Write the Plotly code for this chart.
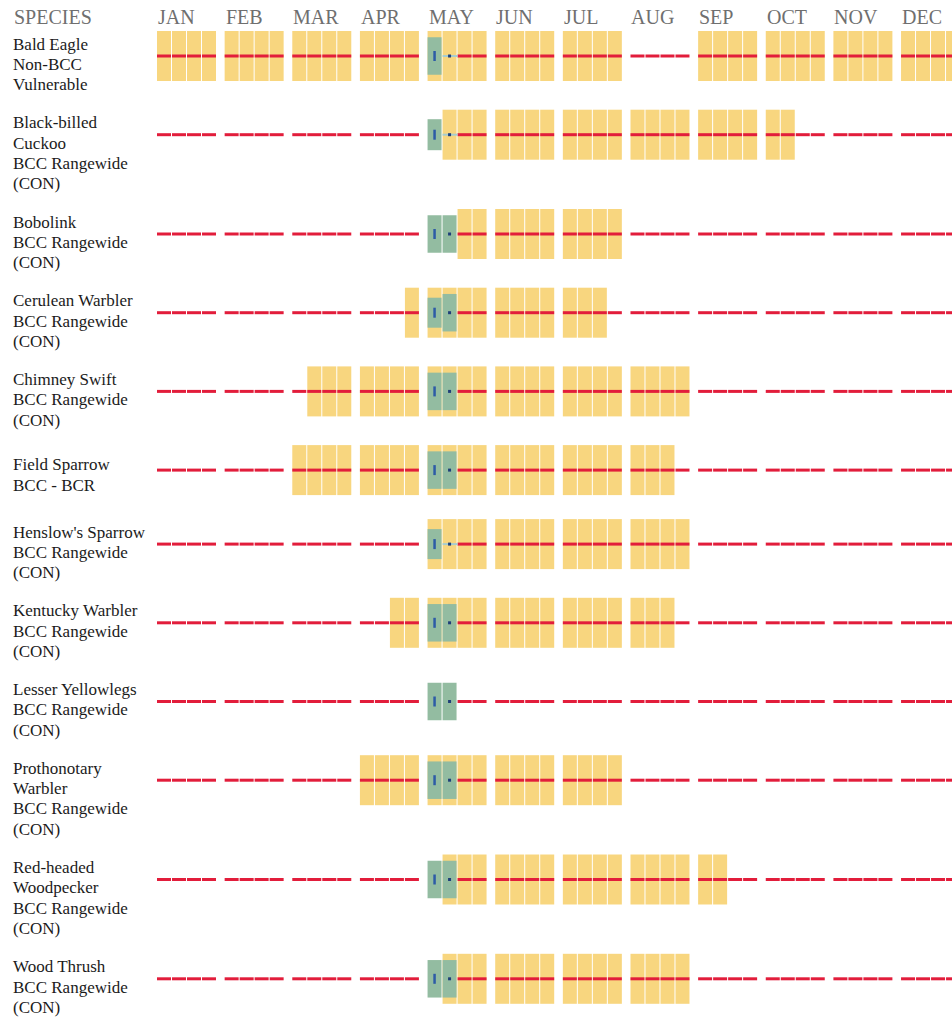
import plotly.graph_objects as go

# ---------------- data ----------------
MONTHS = ["JAN", "FEB", "MAR", "APR", "MAY", "JUN", "JUL", "AUG", "SEP", "OCT", "NOV", "DEC"]

SPECIES = [
    ["Bald Eagle", "Non-BCC", "Vulnerable"],
    ["Black-billed", "Cuckoo", "BCC Rangewide", "(CON)"],
    ["Bobolink", "BCC Rangewide", "(CON)"],
    ["Cerulean Warbler", "BCC Rangewide", "(CON)"],
    ["Chimney Swift", "BCC Rangewide", "(CON)"],
    ["Field Sparrow", "BCC - BCR"],
    ["Henslow's Sparrow", "BCC Rangewide", "(CON)"],
    ["Kentucky Warbler", "BCC Rangewide", "(CON)"],
    ["Lesser Yellowlegs", "BCC Rangewide", "(CON)"],
    ["Prothonotary", "Warbler", "BCC Rangewide", "(CON)"],
    ["Red-headed", "Woodpecker", "BCC Rangewide", "(CON)"],
    ["Wood Thrush", "BCC Rangewide", "(CON)"],
]

# probability of presence, one digit per week, 4 weeks per month (JAN..DEC)
PRESENCE = [
    "1111 1111 1111 1111 1111 1111 1111 0000 1111 1111 1111 1111",
    "0000 0000 0000 0000 0111 1111 1111 1111 1111 1100 0000 0000",
    "0000 0000 0000 0000 0011 1111 1111 0000 0000 0000 0000 0000",
    "0000 0000 0000 0001 1111 1111 1110 0000 0000 0000 0000 0000",
    "0000 0000 0111 1111 1111 1111 1111 1111 0000 0000 0000 0000",
    "0000 0000 1111 1111 1111 1111 1111 1110 0000 0000 0000 0000",
    "0000 0000 0000 0000 1111 1111 1111 1111 0000 0000 0000 0000",
    "0000 0000 0000 0011 1111 1111 1111 1110 0000 0000 0000 0000",
    "0000 0000 0000 0000 0000 0000 0000 0000 0000 0000 0000 0000",
    "0000 0000 0000 1111 1111 1111 1111 0000 0000 0000 0000 0000",
    "0000 0000 0000 0000 0111 1111 1111 1111 1100 0000 0000 0000",
    "0000 0000 0000 0000 0111 1111 1111 1111 0000 0000 0000 0000",
]

# survey effort (relative bar height) in the 1st and 2nd week of MAY
SURVEY_WK1 = [0.75, 0.62, 0.75, 0.60, 0.75, 0.75, 0.60, 0.75, 0.75, 0.75, 0.75, 0.75]
SURVEY_WK2 = [0.00, 0.00, 0.75, 0.75, 0.75, 0.75, 0.00, 0.75, 0.75, 0.75, 0.75, 0.75]
SURVEY_WEEKS = [16, 17]

# ---------------- style / layout constants ----------------
W, H = 952, 1017
PLOT_LEFT = 157          # pixel where JAN starts
MONTH_PX = 67.64         # month pitch in pixels
WEEK = 15.0 / MONTH_PX   # week pitch in month units
BAR_W = 14.0 / MONTH_PX  # drawn width of one week cell
FULL_H = 50              # full bar height (px units on y)
LINE_H = 20.3

YELLOW = "#f8d67f"
GREEN = "#93bca1"
RED = "#e21d3b"
TEAL = "#a7cdd0"
BLUE = "#2d5ba6"
TEXT = "#1b1b1b"
GRAY = "#6f6f6f"
FONT = "Liberation Serif, Times New Roman, serif"

# row layout derived from number of label lines
centers = []
top = 30.0
for lines in SPECIES:
    n = len(lines)
    centers.append(top + 26)
    top += max(16.9 + 20.6 * n, 74)


def week_left(w):
    return w // 4 + (w % 4) * WEEK


fig = go.Figure()

# yellow presence bars
yx, ybase = [], []
for r, pres in enumerate(PRESENCE):
    digits = pres.replace(" ", "")
    for w, d in enumerate(digits):
        if d == "1":
            yx.append(week_left(w) + BAR_W / 2)
            ybase.append(centers[r] - FULL_H / 2)
fig.add_trace(go.Bar(x=yx, y=[FULL_H] * len(yx), base=ybase, width=BAR_W,
                     marker=dict(color=YELLOW, line=dict(width=0)),
                     hoverinfo="skip"))

# green survey effort bars
gx, gy, gbase = [], [], []
for r in range(len(SPECIES)):
    for w, hval in zip(SURVEY_WEEKS, (SURVEY_WK1[r], SURVEY_WK2[r])):
        if hval > 0:
            hh = hval * FULL_H
            gx.append(week_left(w) + BAR_W / 2)
            gy.append(hh)
            gbase.append(centers[r] - hh / 2)
fig.add_trace(go.Bar(x=gx, y=gy, base=gbase, width=BAR_W,
                     marker=dict(color=GREEN, line=dict(width=0)),
                     hoverinfo="skip"))

# red breeding-season line segments
rx, ry = [], []
for r in range(len(SPECIES)):
    for w in range(48):
        if w in SURVEY_WEEKS:
            continue
        x0 = week_left(w)
        rx += [x0, x0 + BAR_W, None]
        ry += [centers[r], centers[r], None]
fig.add_trace(go.Scatter(x=rx, y=ry, mode="lines",
                         line=dict(color=RED, width=3), hoverinfo="skip"))

# light line through survey weeks that have no survey bar
tx, ty = [], []
for r in range(len(SPECIES)):
    for w, hval in zip(SURVEY_WEEKS, (SURVEY_WK1[r], SURVEY_WK2[r])):
        if hval == 0:
            tx += [week_left(w), week_left(w) + WEEK, None]
            ty += [centers[r], centers[r], None]
fig.add_trace(go.Scatter(x=tx, y=ty, mode="lines",
                         line=dict(color=TEAL, width=2), hoverinfo="skip"))

# blue tick in first survey week and dot in second
ix, iy, dx, dy = [], [], [], []
for r in range(len(SPECIES)):
    xc = week_left(SURVEY_WEEKS[0]) + BAR_W / 2
    ix += [xc, xc, None]
    iy += [centers[r] - 5, centers[r] + 5, None]
    dx.append(week_left(SURVEY_WEEKS[1]) + BAR_W / 2)
    dy.append(centers[r])
fig.add_trace(go.Scatter(x=ix, y=iy, mode="lines",
                         line=dict(color=BLUE, width=2.5), hoverinfo="skip"))
fig.add_trace(go.Scatter(x=dx, y=dy, mode="markers",
                         marker=dict(color="#1f3f78", size=3, symbol="square"),
                         hoverinfo="skip"))

annotations = []
# header
annotations.append(dict(text="SPECIES", x=12 / W, xref="paper", y=17, yref="y",
                        xanchor="left", yanchor="middle", showarrow=False,
                        font=dict(family=FONT, size=20, color=GRAY)))
for m, name in enumerate(MONTHS):
    annotations.append(dict(text=name, x=m, xref="x", y=17, yref="y",
                            xanchor="left", yanchor="middle", showarrow=False,
                            xshift=-1,
                            font=dict(family=FONT, size=20, color=GRAY)))
# species labels
for r, lines in enumerate(SPECIES):
    n = len(lines)
    c = centers[r]
    y1 = max(c - 12, c + 5 - (n - 1) * LINE_H / 2)
    for k, t in enumerate(lines):
        annotations.append(dict(text=t, x=11 / W, xref="paper", y=y1 + k * LINE_H,
                                yref="y", xanchor="left", yanchor="middle",
                                showarrow=False,
                                font=dict(family=FONT, size=17, color=TEXT)))

fig.update_layout(
    width=W, height=H,
    margin=dict(l=0, r=0, t=0, b=0, pad=0),
    paper_bgcolor="white", plot_bgcolor="white",
    showlegend=False, barmode="overlay",
    xaxis=dict(range=[-PLOT_LEFT / MONTH_PX, (W - PLOT_LEFT) / MONTH_PX],
               visible=False, fixedrange=True),
    yaxis=dict(range=[H, 0], visible=False, fixedrange=True),
    annotations=annotations,
)

fig.write_html("out.html", config={"displayModeBar": False},
               post_script="document.body.style.margin='0';document.body.style.overflow='hidden';")
